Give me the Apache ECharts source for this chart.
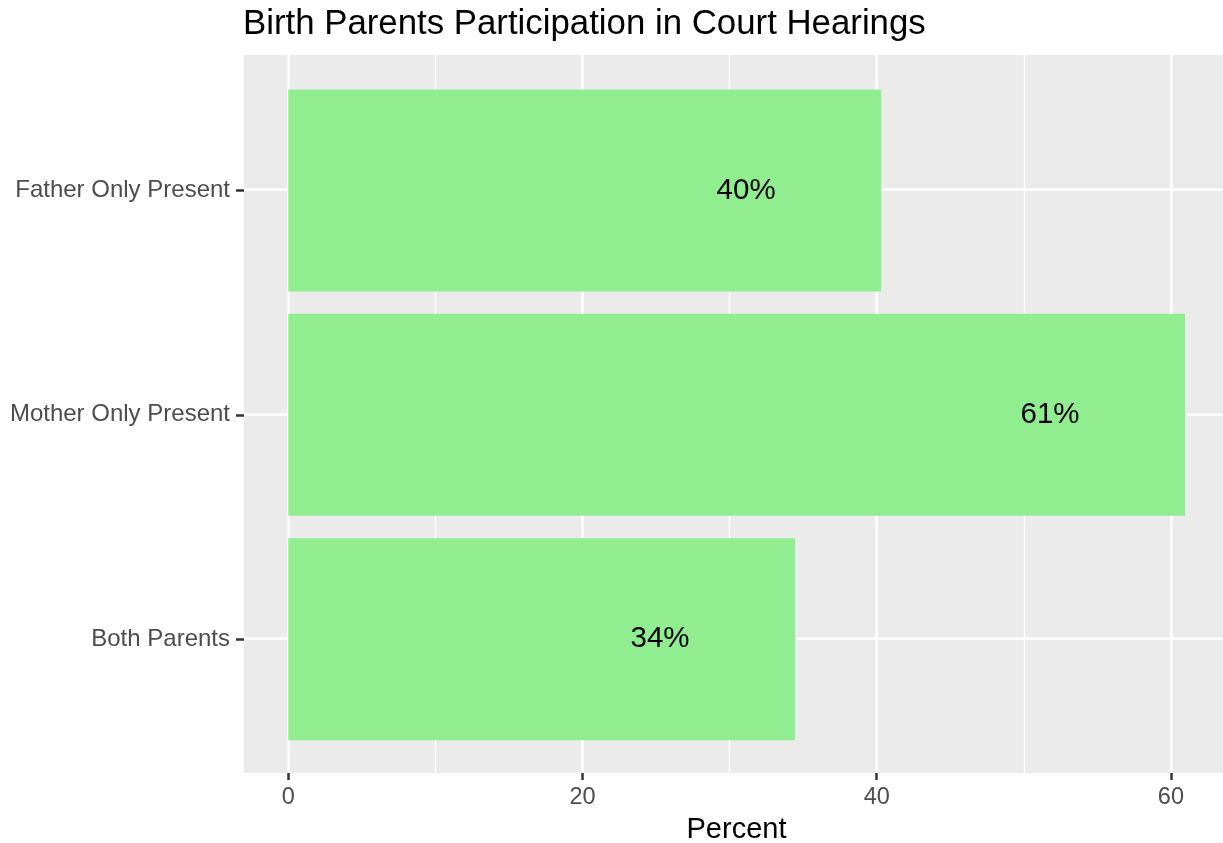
<!DOCTYPE html>
<html><head><meta charset="utf-8">
<script src="https://cdn.jsdelivr.net/npm/echarts@6/dist/echarts.min.js"></script>
<style>html,body{margin:0;padding:0;background:#fff}#c{width:1223px;height:843px}</style>
</head><body><div id="c"></div>
<script>
const categories = ['Both Parents', 'Mother Only Present', 'Father Only Present'];
const values = [34.45, 60.96, 40.3];
const valueLabels = ['34%', '61%', '40%'];
const majorTicks = [0, 20, 40, 60];
const minorTicks = [10, 30, 50];
const categoryLines = [1, 2, 3];

const FONT = 'Liberation Sans, Arial, Helvetica, sans-serif';
const XMIN = -3.01, XMAX = 63.54;

const chart = echarts.init(document.getElementById('c'), null, {renderer: 'canvas'});
chart.setOption({
  animation: false,
  backgroundColor: '#ffffff',
  title: {
    text: 'Birth Parents Participation in Court Hearings',
    left: 238, top: 2,
    textStyle: {fontFamily: FONT, fontSize: 34.8, fontWeight: 'normal', color: '#000'}
  },
  grid: [
    {left: 244, right: 0, top: 55, bottom: 70, show: true, backgroundColor: '#EBEBEB', borderWidth: 0, containLabel: false, outerBoundsMode: 'none'},
    {left: 244, right: 0, top: 78.2, bottom: 91.6, show: false, containLabel: false, outerBoundsMode: 'none'}
  ],
  xAxis: [
    {
      type: 'value', gridIndex: 0, min: XMIN, max: XMAX,
      axisLine: {show: false, onZero: false},
      axisTick: {show: true, customValues: majorTicks, length: 7, lineStyle: {color: '#333333', width: 2.5}},
      axisLabel: {show: true, customValues: majorTicks, color: '#4D4D4D', fontFamily: FONT, fontSize: 23.5, margin: 13},
      splitLine: {show: true, lineStyle: {color: '#ffffff', width: 2.5}},
      name: 'Percent', nameLocation: 'middle', nameGap: 42,
      nameTextStyle: {fontFamily: FONT, fontSize: 29, color: '#000', padding: [0, 0, 0, 6]}
    },
    {
      type: 'value', gridIndex: 0, min: XMIN, max: XMAX,
      axisLine: {show: false, onZero: false},
      axisTick: {show: false, customValues: minorTicks},
      axisLabel: {show: false, customValues: minorTicks},
      splitLine: {show: true, lineStyle: {color: '#ffffff', width: 1.3}}
    },
    {
      type: 'value', gridIndex: 1, min: XMIN, max: XMAX,
      axisLine: {show: false, onZero: false}, axisTick: {show: false}, axisLabel: {show: false}, splitLine: {show: false}
    }
  ],
  yAxis: [
    {
      type: 'value', gridIndex: 0, min: 0.4, max: 3.6,
      axisLine: {show: false, onZero: false},
      axisTick: {show: false, customValues: categoryLines},
      axisLabel: {show: false, customValues: categoryLines},
      splitLine: {show: true, lineStyle: {color: '#ffffff', width: 2.5}}
    },
    {
      type: 'category', gridIndex: 1, data: categories,
      axisLine: {show: false, onZero: false},
      axisTick: {show: true, alignWithLabel: true, length: 8, lineStyle: {color: '#333333', width: 2.5}},
      axisLabel: {color: '#4D4D4D', fontFamily: FONT, fontSize: 24, margin: 14},
      splitLine: {show: false}
    }
  ],
  series: [{
    type: 'bar',
    xAxisIndex: 2, yAxisIndex: 1,
    data: values,
    barCategoryGap: '10%',
    itemStyle: {color: '#90EE90'},
    z: 5,
    label: {
      show: true, position: 'insideRight', distance: 135, align: 'center',
      fontFamily: FONT, fontSize: 29.5, color: '#000',
      formatter: p => valueLabels[p.dataIndex]
    }
  }]
});
</script></body></html>
